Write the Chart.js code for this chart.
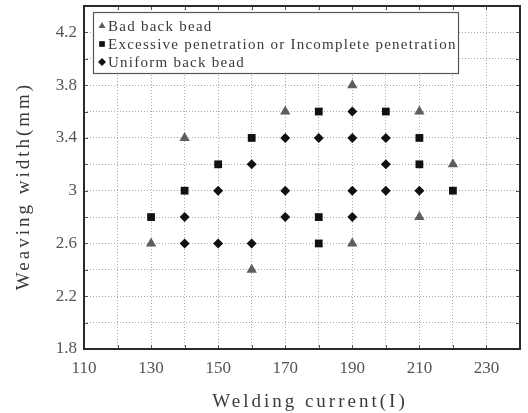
<!DOCTYPE html>
<html><head><meta charset="utf-8">
<script src="https://cdn.jsdelivr.net/npm/chart.js@4/dist/chart.umd.min.js"></script>
<style>html,body{margin:0;padding:0;background:#fff}#wrap{width:528px;height:413px}</style>
</head><body><div id="wrap"><canvas id="c" width="528" height="413"></canvas></div>
<script>
const seriesNames = ["Bad back bead", "Excessive penetration or Incomplete penetration", "Uniform back bead"];
const badCurrent = [190, 170, 210, 140, 220, 210, 130, 190, 160];
const badWidth   = [3.8, 3.6, 3.6, 3.4, 3.2, 2.8, 2.6, 2.6, 2.4];
const excCurrent = [180, 200, 160, 210, 150, 210, 140, 220, 130, 180, 180];
const excWidth   = [3.6, 3.6, 3.4, 3.4, 3.2, 3.2, 3.0, 3.0, 2.8, 2.8, 2.6];
const uniCurrent = [190, 170, 180, 190, 200, 160, 200, 150, 170, 190, 200, 210, 140, 170, 190, 140, 150, 160];
const uniWidth   = [3.6, 3.4, 3.4, 3.4, 3.4, 3.2, 3.2, 3.0, 3.0, 3.0, 3.0, 3.0, 2.8, 2.8, 2.8, 2.6, 2.6, 2.6];
const xTitle = "Welding current(I)";
const yTitle = "Weaving width(mm)";

const pts = (xs, ys) => xs.map((x, i) => ({x, y: ys[i]}));
const SERIF = "'Liberation Serif', 'DejaVu Serif', serif";

const framePlugin = {
  id: 'frame',
  afterDatasetsDraw(chart) {
    const {ctx, chartArea: a} = chart;
    const xs = chart.scales.x, ys = chart.scales.y;
    ctx.save();
    // inward tick marks
    ctx.strokeStyle = '#555';
    ctx.lineWidth = 1;
    ctx.beginPath();
    xs.ticks.forEach(t => {
      const px = Math.round(xs.getPixelForValue(t.value)) + 0.5;
      ctx.moveTo(px, a.bottom); ctx.lineTo(px, a.bottom - 4);
      ctx.moveTo(px, a.top); ctx.lineTo(px, a.top + 4);
    });
    ys.ticks.forEach(t => {
      const py = Math.round(ys.getPixelForValue(t.value)) + 0.5;
      ctx.moveTo(a.left, py); ctx.lineTo(a.left + 4, py);
      ctx.moveTo(a.right, py); ctx.lineTo(a.right - 4, py);
    });
    ctx.stroke();
    ctx.strokeStyle = '#2a2a2a';
    ctx.lineWidth = 2;
    ctx.strokeRect(a.left, a.top, a.right - a.left, a.bottom - a.top);
    // legend
    const lx = 93, ly = 12, lw = 365, lh = 61;
    ctx.fillStyle = '#fff';
    ctx.fillRect(lx, ly, lw, lh);
    ctx.strokeStyle = '#555';
    ctx.lineWidth = 1.2;
    ctx.strokeRect(lx + 0.5, ly + 0.5, lw, lh);
    ctx.font = "15px " + SERIF;
    ctx.textBaseline = 'middle';
    ctx.textAlign = 'left';
    chart.data.datasets.forEach((ds, i) => {
      const y = 26 + i * 18;
      ctx.fillStyle = ds.backgroundColor;
      ctx.strokeStyle = ds.backgroundColor;
      Chart.helpers.drawPoint(ctx, {pointStyle: ds.pointStyle, radius: 4, borderWidth: 0}, 102, y);
      ctx.fillStyle = '#3a3a3a';
      ctx.letterSpacing = '1.25px';
      ctx.fillText(ds.label, 108, y + 1);
      ctx.letterSpacing = '0px';
    });
    // axis titles
    ctx.fillStyle = '#3a3a3a';
    ctx.font = "19px " + SERIF;
    ctx.letterSpacing = '3px';
    ctx.textAlign = 'center';
    ctx.textBaseline = 'alphabetic';
    ctx.fillText(xTitle, 310, 407);
    ctx.translate(29, 186);
    ctx.rotate(-Math.PI / 2);
    ctx.fillText(yTitle, 0, 0);
    ctx.restore();
  }
};

new Chart(document.getElementById('c'), {
  type: 'scatter',
  data: {
    datasets: [
      {label: seriesNames[0], data: pts(badCurrent, badWidth), pointStyle: 'triangle', pointRadius: 6, backgroundColor: '#5e5e5e', borderColor: '#5e5e5e', borderWidth: 0},
      {label: seriesNames[1], data: pts(excCurrent, excWidth), pointStyle: 'rect', pointRadius: 5.5, backgroundColor: '#111', borderColor: '#111', borderWidth: 0},
      {label: seriesNames[2], data: pts(uniCurrent, uniWidth), pointStyle: 'rectRot', pointRadius: 5, backgroundColor: '#111', borderColor: '#111', borderWidth: 0}
    ]
  },
  options: {
    responsive: false,
    animation: false,
    layout: {padding: {top: 6, right: 8, left: 0, bottom: 0}},
    plugins: {legend: {display: false}, tooltip: {enabled: false}},
    scales: {
      x: {
        type: 'linear', min: 110, max: 240,
        afterFit(s) { s.height = 64; s.paddingLeft = 0; s.paddingRight = 0; },
        ticks: {
          stepSize: 10, autoSkip: false, maxRotation: 0, padding: 9,
          color: '#555', font: {family: SERIF, size: 17},
          callback: v => (Math.round(v - 110) % 20 === 0 && v < 240) ? String(v) : ''
        },
        grid: {color: '#aaa', lineWidth: 1, drawTicks: false, tickLength: 0},
        border: {display: false, dash: [1, 2]}
      },
      y: {
        type: 'linear', min: 1.8, max: 4.4,
        afterFit(s) { s.width = 84; s.paddingTop = 0; s.paddingBottom = 0; },
        ticks: {
          stepSize: 0.2, autoSkip: false, padding: 7,
          color: '#555', font: {family: SERIF, size: 17},
          callback: v => (Math.round((v - 1.8) * 10) % 4 === 0 && v < 4.3) ? String(Math.round(v * 10) / 10) : ''
        },
        grid: {color: '#aaa', lineWidth: 1, drawTicks: false, tickLength: 0},
        border: {display: false, dash: [1, 2]}
      }
    }
  },
  plugins: [framePlugin]
});
</script></body></html>
